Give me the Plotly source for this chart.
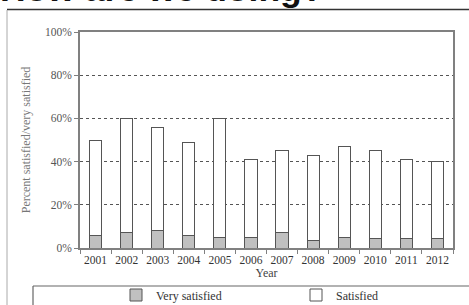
import plotly.graph_objects as go

years = ["2001", "2002", "2003", "2004", "2005", "2006", "2007", "2008", "2009", "2010", "2011", "2012"]
very_satisfied = [6, 7, 8, 6, 5, 5, 7, 3.5, 5, 4.5, 4.5, 4.5]
total_satisfied = [50, 60, 56, 49, 60, 41, 45, 43, 47, 45, 41, 40]
satisfied = [t - v for t, v in zip(total_satisfied, very_satisfied)]
y_ticks = [0, 20, 40, 60, 80, 100]
y_labels = [f"{v}%" for v in y_ticks]

W, H = 469, 305
L, R, T, B = 80, 16, 32, 57
pw, ph = W - L - R, H - T - B

def px(x):
    return (x - L) / pw

def py(y):
    return (H - B - y) / ph

serif = "Liberation Serif, Times New Roman, serif"

fig = go.Figure()
fig.add_trace(go.Bar(x=years, y=very_satisfied, name="Very satisfied",
                     marker=dict(color="#c0c0c0", line=dict(color="#555555", width=1))))
fig.add_trace(go.Bar(x=years, y=satisfied, name="Satisfied",
                     marker=dict(color="#ffffff", line=dict(color="#555555", width=1))))

fig.update_layout(
    width=W, height=H,
    margin=dict(l=L, r=R, t=T, b=B, autoexpand=False),
    barmode="stack", bargap=0.61,
    plot_bgcolor="white", paper_bgcolor="white",
    font=dict(family=serif, size=11, color="#444"),
    legend=dict(orientation="h", x=px(116), xanchor="left", y=py(295), yanchor="middle",
                entrywidth=135, entrywidthmode="pixels", font=dict(size=12, family=serif, color="#333"),
                bgcolor="rgba(0,0,0,0)", itemwidth=30, traceorder="normal"),
    xaxis=dict(showline=True, linecolor="#808080", linewidth=1.5, mirror=True,
               ticks="outside", ticklen=4, tickcolor="#808080", tickson="boundaries",
               tickangle=0, automargin=False,
               tickfont=dict(size=11.5, family=serif, color="#333"),
               title=dict(text="Year", font=dict(size=12, family=serif, color="#444"), standoff=3),
               range=[-0.5, 11.5]),
    yaxis=dict(range=[0, 100], tickvals=y_ticks, ticktext=y_labels, automargin=False,
               showline=True, linecolor="#808080", linewidth=1.5, mirror=True,
               ticks="outside", ticklen=4, tickcolor="#808080",
               showgrid=True, gridcolor="#555555", griddash="dot", gridwidth=1,
               zeroline=False,
               tickfont=dict(size=11.5, family=serif, color="#555"),
               title=dict(text="Percent satisfied/very satisfied",
                          font=dict(size=12, family=serif, color="#777"), standoff=12)),
    showlegend=True,
)

# page title (cropped at top)
fig.add_annotation(text="<b>How are we doing?</b>", xref="paper", yref="paper",
                   x=px(-2), y=py(10.5), xanchor="left", yanchor="bottom", showarrow=False,
                   font=dict(family="Liberation Sans, Arial, sans-serif", size=35.5, color="#111111"))
# rule under title
fig.add_shape(type="line", xref="paper", yref="paper", x0=px(7), x1=px(469), y0=py(9.5), y1=py(9.5),
              line=dict(color="#333333", width=1.5))
# chart frame left edge
fig.add_shape(type="line", xref="paper", yref="paper", x0=px(7), x1=px(7), y0=py(10), y1=py(305),
              line=dict(color="#aaaaaa", width=1))
# legend box
fig.add_shape(type="line", xref="paper", yref="paper", x0=px(33), x1=px(469), y0=py(286), y1=py(286),
              line=dict(color="#666666", width=1.2))
fig.add_shape(type="line", xref="paper", yref="paper", x0=px(33), x1=px(33), y0=py(286), y1=py(305),
              line=dict(color="#666666", width=1.2))

fig.write_html("out.html", config={"displayModeBar": False},
               post_script="document.body.style.margin='0px';")
